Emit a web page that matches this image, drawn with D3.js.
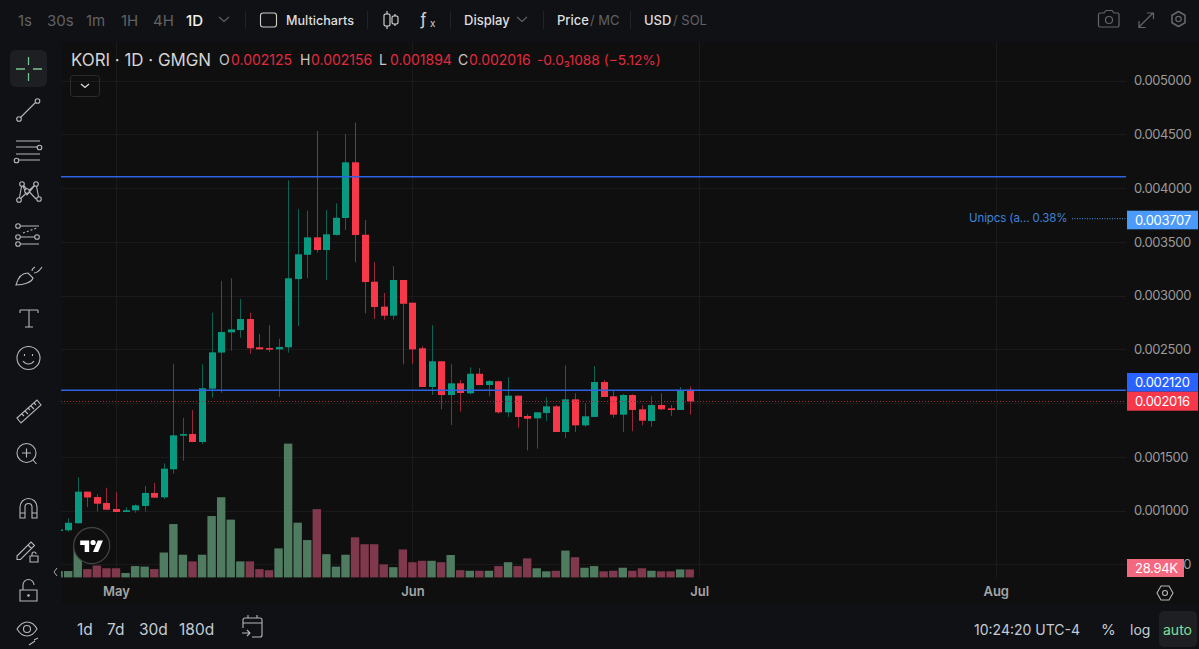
<!DOCTYPE html>
<html>
<head>
<meta charset="utf-8">
<title>KORI 1D</title>
<script src="https://cdn.jsdelivr.net/npm/d3@7"></script>
<style>
  html, body { margin: 0; padding: 0; background: #101114; overflow: hidden; }
  svg { display: block; font-family: Inter, "Noto Sans", sans-serif; }
  .domain { display: none; }
  .tick line { display: none; }
</style>
</head>
<body>
<svg id="chart" width="1199" height="649"></svg>
<script>
// Daily candles for KORI, first session 25 April, values in millionths of a dollar.
const firstDay = "2025-04-25";
const opens = [816,818,883,1177,1127,1072,1016,988,1004,1044,1165,1125,1385,1698,1713,1639,2135,2471,2659,2681,2783,2520,2513,2501,2520,3155,3381,3543,3425,3565,3723,4241,3567,3130,2898,2814,3146,2935,2511,2151,2390,2076,2185,2092,2274,2169,2204,1915,2070,1881,1859,1909,1971,1732,2036,1794,1872,2197,2064,1893,2076,1943,1834,1983,1952,1937,2125];
const highs = [825,929,1311,1177,1153,1214,1171,1032,1059,1230,1258,1441,2367,1865,1937,2362,2842,3137,3162,2969,2842,2644,2725,2600,4073,3806,3791,4532,3797,3859,4504,4609,3704,3313,3025,3276,3146,2935,2532,2727,2390,2365,2216,2334,2327,2216,2209,2241,2070,1899,1915,2055,1983,2352,2092,1999,2346,2216,2123,2086,2083,1980,2064,2092,1983,2151,2156];
const lows = [816,805,883,1032,994,1009,988,988,981,991,1121,1109,1344,1465,1639,1620,2051,2098,2488,2609,2460,2501,2476,2058,2470,2718,3162,3400,3146,3558,3611,3311,2836,2783,2777,2777,2362,2365,2151,2076,1943,1797,1921,2083,2169,2064,1902,1872,1772,1562,1577,1834,1732,1676,1732,1781,1872,2058,1865,1732,1739,1794,1781,1937,1881,1937,1894];
const closes = [825,888,1177,1123,1065,1009,988,1004,1050,1165,1121,1391,1701,1713,1639,2139,2473,2662,2687,2783,2511,2501,2498,2523,3162,3385,3543,3425,3571,3725,4241,3565,3127,2895,2814,3146,2925,2501,2151,2390,2076,2185,2095,2274,2169,2206,1915,2070,1872,1856,1915,1971,1732,2036,1794,1878,2197,2058,1893,2076,1937,1837,1983,1943,1937,2123,2016];
// Traded volume per session, in thousands.
const volumes = [23,23,112,30,43,33,33,16,41,39,30,90,193,82,58,82,222,290,209,58,58,30,26,105,484,198,135,247,84,39,82,145,120,120,47,37,101,55,60,60,55,81,26,24,24,24,41,55,41,69,33,22,24,97,73,35,41,22,24,35,24,33,24,22,22,29,28.94];

const priceTicks = [0.0005,0.001,0.0015,0.002,0.0025,0.003,0.0035,0.004,0.0045,0.005];
const monthTicks = ["2025-05-01","2025-06-01","2025-07-01","2025-08-01"];
const drawnLevels = [0.004107, 0.00212];
const orderLevel = 0.003707;
const rangeButtons = ["1d","7d","30d","180d"];
const intervals = [["1s",18],["30s",47],["1m",86],["1H",121],["4H",153],["1D",186]];

const day = 864e5;
const t0 = Date.parse(firstDay + "T00:00:00Z");
const candles = opens.map((o, i) => ({
  date: new Date(t0 + i * day),
  o: o / 1e6, h: highs[i] / 1e6, l: lows[i] / 1e6, c: closes[i] / 1e6, v: volumes[i]
}));

const W = 1199, H = 649;
const plot = { left: 61, right: 1126, top: 42, bottom: 578 };
const svg = d3.select("#chart");

const x = d3.scaleUtc()
  .domain([new Date("2025-05-01T00:00:00Z"), new Date("2025-08-01T00:00:00Z")])
  .range([116, 995.7]);
const y = d3.scaleLinear().domain([0.001, 0.005]).range([510.7, 80.7]);
const yVol = d3.scaleLinear().domain([0, d3.max(volumes)]).range([577.4, 577.4 - d3.max(volumes) * 8 / 28.94]);

const colors = {
  panel: "#101114", pane: "#0f0f0f", grid: "#1a1a1a", up: "#089981", down: "#f7374a",
  upWick: "#0b6353", downWick: "#97293a", upVol: "#4f7b60", downVol: "#80384c",
  text: "#d8d8d8", dim: "#5f6266", icon: "#b5b7b9", legendRed: "#e02a3f"
};

// Window regions
svg.append("rect").attr("width", W).attr("height", H).attr("fill", colors.panel);
svg.append("rect").attr("x", plot.left).attr("y", plot.top).attr("width", W - plot.left).attr("height", 562).attr("fill", colors.pane);

svg.append("defs").append("clipPath").attr("id", "plot-clip").append("rect")
  .attr("x", plot.left).attr("y", plot.top).attr("width", plot.right - plot.left).attr("height", plot.bottom - plot.top);

// Grid
const grid = svg.append("g").attr("stroke", colors.grid).attr("stroke-width", 1);
grid.selectAll("line.h").data(priceTicks).join("line").attr("class", "h")
  .attr("x1", plot.left).attr("x2", plot.right)
  .attr("y1", d => Math.round(y(d)) + 0.5).attr("y2", d => Math.round(y(d)) + 0.5);
grid.selectAll("line.v").data(monthTicks).join("line").attr("class", "v")
  .attr("x1", d => Math.round(x(new Date(d))) + 0.5).attr("x2", d => Math.round(x(new Date(d))) + 0.5)
  .attr("y1", plot.top).attr("y2", plot.bottom);

const marks = svg.append("g").attr("clip-path", "url(#plot-clip)");

// Volume histogram
marks.append("g").selectAll("rect").data(candles).join("rect")
  .attr("x", d => x(d.date) - 4.2).attr("width", 8.4)
  .attr("y", d => yVol(d.v)).attr("height", d => yVol(0) - yVol(d.v))
  .attr("fill", d => d.c >= d.o ? colors.upVol : colors.downVol);

// Candles: wick first, then body
const candle = marks.append("g").selectAll("g").data(candles).join("g");
candle.append("line")
  .attr("x1", d => Math.round(x(d.date)) + 0.5).attr("x2", d => Math.round(x(d.date)) + 0.5)
  .attr("y1", d => y(d.h)).attr("y2", d => y(d.l))
  .attr("stroke", d => d.c >= d.o ? colors.upWick : colors.downWick);
candle.append("rect")
  .attr("x", d => Math.round(x(d.date)) - 3).attr("width", 7)
  .attr("y", d => y(Math.max(d.o, d.c)))
  .attr("height", d => Math.max(1.5, Math.abs(y(d.o) - y(d.c))))
  .attr("fill", d => d.c >= d.o ? colors.up : colors.down);

// Horizontal levels
marks.selectAll("line.level").data(drawnLevels).join("line").attr("class", "level")
  .attr("x1", plot.left).attr("x2", plot.right).attr("y1", d => y(d)).attr("y2", d => y(d))
  .attr("stroke", "#2f62e6").attr("stroke-width", 1.4);
const last = candles[candles.length - 1];
marks.append("line").attr("x1", plot.left).attr("x2", plot.right)
  .attr("y1", y(last.c)).attr("y2", y(last.c))
  .attr("stroke", "#a02c3c").attr("stroke-dasharray", "1 2");
svg.append("line").attr("x1", 1072).attr("x2", plot.right)
  .attr("y1", y(orderLevel) - 1).attr("y2", y(orderLevel) - 1)
  .attr("stroke", "#4c9bfb").attr("stroke-dasharray", "1 1.5");
svg.append("text").attr("x", 969).attr("y", 222).attr("font-size", 11.5).attr("letter-spacing", -0.1).attr("fill", "#3f84d8").text("Unipcs (a... 0.38%");

// Price axis
const yAxis = svg.append("g").attr("transform", `translate(${plot.right},0)`)
  .call(d3.axisRight(y).tickValues(priceTicks).tickFormat(d3.format(".6f")).tickSize(0).tickPadding(8));
yAxis.selectAll("text").attr("font-size", 13).attr("letter-spacing", -0.4).attr("fill", "#9a9a9a").attr("font-family", "Inter, sans-serif");

// Price tags on the axis
function tag(yTop, h, right, fill, label) {
  svg.append("rect").attr("x", 1127).attr("y", yTop).attr("width", right - 1127).attr("height", h).attr("fill", fill);
  svg.append("text").attr("x", 1135).attr("y", yTop + h / 2 + 4.6).attr("font-size", 13).attr("letter-spacing", -0.3).attr("fill", "#fff").text(label);
}
const fmt6 = d3.format(".6f");
tag(210.7, 18.6, 1198, "#4c9bfb", fmt6(orderLevel));
tag(373, 18.7, 1198, "#2962ff", fmt6(drawnLevels[1]));
tag(391.7, 19, 1198, "#f7374a", fmt6(last.c));
tag(559, 18, 1184, "#f4697f", last.v + "K");

// Time axis
const xAxis = svg.append("g").attr("transform", "translate(0,585)")
  .call(d3.axisBottom(x).tickValues(monthTicks.map(d => new Date(d))).tickFormat(d3.utcFormat("%b")).tickSize(0).tickPadding(2));
xAxis.selectAll("text").attr("font-size", 13).attr("font-weight", 600).attr("fill", "#a5a5a5").attr("font-family", "Inter, sans-serif");

// Legend row
function label(xp, yp, txt, size, fill, weight) {
  return svg.append("text").attr("x", xp).attr("y", yp).attr("font-size", size).attr("fill", fill)
    .attr("font-weight", weight || 400).text(txt);
}
label(71, 65.5, "KORI · 1D · GMGN", 16.9, "#d4d4d4");
[["O", 219, last.o, 231], ["H", 300, last.h, 311], ["L", 379, last.l, 390], ["C", 458, last.c, 469]].forEach(([k, kx, v, vx]) => {
  label(kx, 65, k, 14, "#c8c8c8");
  label(vx, 65, fmt6(v), 14, colors.legendRed);
});
label(537, 65, "-0.0₃1088 (−5.12%)", 13.7, colors.legendRed);

svg.append("rect").attr("x", 70.5).attr("y", 75.5).attr("width", 29).attr("height", 21).attr("rx", 3)
  .attr("fill", "none").attr("stroke", "#2c2c2e");
svg.append("path").attr("d", "M81 84l4 3.5 4-3.5").attr("fill", "none").attr("stroke", "#ddd").attr("stroke-width", 1.3);

// Top toolbar
intervals.forEach(([t, xp]) => label(xp, 25.5, t, 15, t === "1D" ? "#f0f0f0" : colors.dim, t === "1D" ? 500 : 400));
label(286, 25, "Multicharts", 12.6, "#dedede", 500);
label(464, 25, "Display", 13, "#dedede", 500);
label(557, 25, "Price", 13, "#dedede", 500);
label(590, 25, "/ MC", 13, colors.dim);
label(644, 25, "USD", 13, "#dedede", 500);
label(673, 25, "/ SOL", 13, colors.dim);
label(420, 25, "ƒ", 17, "#cfcfcf");
label(430, 27, "x", 10, "#cfcfcf");

const icons = svg.append("g").attr("fill", "none").attr("stroke", colors.icon).attr("stroke-width", 1.1);
[245, 367, 450, 543, 630].forEach(sx => svg.append("line").attr("x1", sx + .5).attr("x2", sx + .5).attr("y1", 11).attr("y2", 29).attr("stroke", "#222428"));
icons.append("path").attr("stroke", colors.dim).attr("d", "M219 17l5 4.5 5-4.5M517 17l5 4.5 5-4.5");
icons.append("rect").attr("x", 260.5).attr("y", 13).attr("width", 16).attr("height", 14).attr("rx", 2.5).attr("stroke", "#ccc");
icons.append("path").attr("stroke", "#ddd").attr("d", "M387 11v3M387 26v3M395 14v2M395 24v2");
icons.append("rect").attr("x", 384).attr("y", 14).attr("width", 6).attr("height", 12).attr("rx", 1.5).attr("stroke", "#ddd");
icons.append("rect").attr("x", 392).attr("y", 16).attr("width", 6).attr("height", 8).attr("rx", 1.5).attr("stroke", "#ddd");
// Camera, expand, settings
const faint = svg.append("g").attr("fill", "none").attr("stroke", "#63666a").attr("stroke-width", 1.2);
faint.append("path").attr("d", "M1100 13h4l2-2.5h6l2 2.5h3.5a1.5 1.5 0 0 1 1.500 1.500v11a1.500 1.500 0 0 1-1.500 1.500h-17.500a1.500 1.500 0 0 1-1.500-1.500v-11a1.500 1.500 0 0 1 1.500-1.500z");
faint.append("circle").attr("cx", 1109).attr("cy", 20).attr("r", 3.5);
faint.append("path").attr("d", "M1139 27l14-14M1147 13h6.500v6M1139 21v6.500h6.500");
faint.append("path").attr("d", "M1178.500 11.500l6.500 3.700v7.500l-6.500 3.800-6.500-3.800v-7.500z").attr("stroke-linejoin", "round").attr("stroke-width", 1.6);
faint.append("circle").attr("cx", 1178.500).attr("cy", 19).attr("r", 2.700);

// Drawing tools on the left rail
svg.append("rect").attr("x", 10).attr("y", 50).attr("width", 37).attr("height", 37).attr("rx", 6).attr("fill", "#1d1f22");
svg.append("path").attr("d", "M28.500 57v8M28.500 73v8M16 69h9M33 69h9").attr("stroke", "#79c48e").attr("stroke-width", 1.3);
const rail = svg.append("g").attr("fill", "none").attr("stroke", colors.icon).attr("stroke-width", 1.1);
function dots(list) { list.forEach(([cx, cy]) => rail.append("circle").attr("cx", cx).attr("cy", cy).attr("r", 2.300).attr("fill", colors.panel)); }
rail.append("path").attr("d", "M19 119L37 101"); dots([[19, 119], [37.500, 101]]);
rail.append("path").attr("d", "M16 141h24M16 147h24M16 154h24M16 160h24"); dots([[39.500, 147.500], [16.500, 160.500]]);
rail.append("path").attr("d", "M19 200l3-16 5 11 9-11 3 15M22 184l14 15M36 184l-17 16"); dots([[19, 200], [22, 184], [27, 191], [36, 184], [39, 199]]);
rail.append("path").attr("d", "M18 226h21M18 237h19M18 244h21"); dots([[18, 226], [18, 237], [37, 237], [18, 244]]);
rail.append("path").attr("d", "M23 233l14-5").attr("stroke-dasharray", "2 2");
rail.append("path").attr("d", "M16 285c2-8 6-12 12-12l5 5c-1 4-9 7-17 7zM32 271c0-2 1-3 3-4M34 273c3 0 6-3 8-6");
rail.append("path").attr("d", "M20 310h18M29 310v17M25 327h8M20 310v3M38 310v3");
rail.append("circle").attr("cx", 28.500).attr("cy", 358).attr("r", 11.500);
rail.append("path").attr("d", "M23 361c3 4 8 4 11 0M24.500 354v2M32.500 354v2");
rail.append("path").attr("d", "M17 418l20-18 4 5-20 18zM22 414l2 2M25 411l3 3M28 408l2 2M31 406l3 3M34 403l2 2");
rail.append("circle").attr("cx", 26.500).attr("cy", 453).attr("r", 9.500);
rail.append("path").attr("d", "M33 460l3.500 4M22 453h9M26.500 448.500v9");
rail.append("path").attr("d", "M20 518v-11a8.500 8.500 0 0 1 17 0v11M25 518v-11a3.500 3.500 0 0 1 7 0v11M20 513h5v5h-5zM32 513h5v5h-5z");
rail.append("path").attr("d", "M17 556l14-14 3.500 3.500-14 14h-3.500zM28 545l3.500 3.500M30 556h8v6h-8zM32 556v-2a2 2 0 0 1 4 0");
rail.append("path").attr("d", "M20 590h17v11h-17zM23 590v-5a5.500 5.500 0 0 1 11 0");
rail.append("circle").attr("cx", 28.500).attr("cy", 595.500).attr("r", .8).attr("fill", colors.icon);
rail.append("path").attr("d", "M17 629c4-6 8-7 10-7s7 1 10 7c-3 5-7 7-10 7s-7-2-10-7z");
rail.append("circle").attr("cx", 27).attr("cy", 629).attr("r", 3.500);
rail.append("path").attr("d", "M29 645l6-4M34 640l4-2");
svg.append("path").attr("d", "M57 568l-3 4 3 4").attr("fill", "none").attr("stroke", "#aaa");

// Watermark badge
const badge = svg.append("g").attr("transform", "translate(91.700,545.700)");
badge.append("circle").attr("r", 18).attr("fill", "#0f0f0f").attr("stroke", "#454545").attr("stroke-width", 1.2);
badge.append("path").attr("transform", "translate(-11.500,-7.800) scale(.64)").attr("fill", "#fff")
  .attr("d", "M14 22H7V11H0V4h14v18zM28 22h-8l7.500-18h8L28 22z");
badge.append("circle").attr("cx", 1.400).attr("cy", -3.200).attr("r", 2.600).attr("fill", "#fff");

// Bottom bar
[77, 107, 139, 179].forEach((xp, i) => label(xp, 634.5, rangeButtons[i], 15.5, "#c3ccd4"));
rail.append("path").attr("d", "M243 628v-8a2 2 0 0 1 2-2h15a2 2 0 0 1 2 2v15a2 2 0 0 1-2 2h-8M243 623h19M248 615v3M257 615v3M242 633h8M247 630l3 3-3 3");
label(974, 635, "10:24:20 UTC-4", 14, "#c3ccd4");
label(1101, 635, "%", 15, "#c3ccd4");
label(1130, 635, "log", 14, "#c3ccd4");
svg.append("rect").attr("x", 1159).attr("y", 611).attr("width", 38).attr("height", 36).attr("rx", 5).attr("fill", "#1d1f22");
label(1163, 635, "auto", 14, "#7ee09a");
rail.append("path").attr("d", "M1157 593l4-7h8l4 7-4 7h-8z");
rail.append("circle").attr("cx", 1165).attr("cy", 593).attr("r", 2.500);
</script>
</body>
</html>
